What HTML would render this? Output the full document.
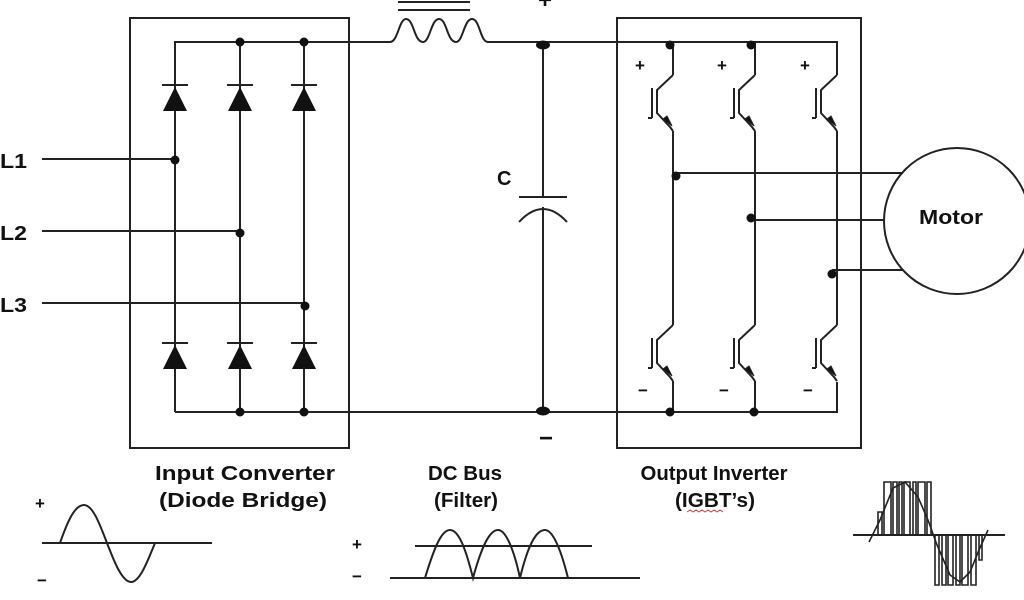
<!DOCTYPE html>
<html><head><style>
html,body{margin:0;padding:0;background:#fff;}
svg{display:block;}
text{font-family:"Liberation Sans",sans-serif;font-weight:bold;fill:#111;}
</style></head><body>
<svg width="1024" height="600" viewBox="0 0 1024 600" xmlns="http://www.w3.org/2000/svg">
<defs>
<g id="igbt" fill="none" stroke="#222" stroke-width="2">
  <polyline points="0,0 -16,15 -16,38 -3,52 0,56"/>
  <line x1="-21" y1="13" x2="-21" y2="43"/>
  <line x1="-21" y1="43" x2="-25" y2="43"/>
  <polygon points="-1,51 -10,44 -6,41" fill="#111" stroke-width="1"/>
</g>
</defs>
<g stroke="#222" stroke-width="2" fill="none">
  <rect x="130" y="18" width="219" height="430"/>
  <rect x="617" y="18" width="244" height="430"/>
  <polyline points="175,412 175,42 390,42"/>
  <path d="M390,42 C398,42 401,19 407,19 C413,19 416,42 423,42 C430,42 433,19 439,19 C445,19 448,42 455,42 C462,42 465,19 471,19 C477,19 480,42 488,42 L490,42" opacity="0"/>
  <path d="M390,42 C400,42 397,19 406,19 C415,19 413,42 423,42 C433,42 430,19 439,19 C448,19 446,42 456,42 C466,42 463,19 472,19 C481,19 479,42 488,42 L490,42" opacity="0"/>
  <path d="M390,42 L394,42 C400,42 401,19 406,19 C412,19 413,42 420,42 C424,42 426,19 439,19 C448,19 450,42 455,42 C459,42 461,19 472,19 C481,19 482,42 488,42 L490,42" opacity="0"/>
  <path d="M390,42 L394,42 L406,19 L423,42 L439,19 L456,42 L472,19 L488,42 L490,42" opacity="0"/>
  <path d="M390,42 C398,42 399,19 406,19 C414,19 414,42 423,42" />
  <path d="M423,42 C430,42 431,19 439,19 C447,19 447,42 456,42" />
  <path d="M456,42 C463,42 464,19 472,19 C480,19 480,42 488,42 L490,42" />
  <line x1="398" y1="2" x2="470" y2="2"/>
  <line x1="398" y1="10" x2="470" y2="10"/>
  <polyline points="490,42 837,42 837,75"/>
  <polyline points="175,412 837,412 837,382"/>
  <line x1="240" y1="42" x2="240" y2="412"/>
  <line x1="304" y1="42" x2="304" y2="412"/>
  <line x1="42" y1="159" x2="175" y2="159"/>
  <line x1="42" y1="231" x2="240" y2="231"/>
  <line x1="42" y1="303" x2="304" y2="303"/>
  <line x1="543" y1="42" x2="543" y2="197"/>
  <line x1="519" y1="197" x2="567" y2="197"/>
  <path d="M519,222 Q543,196 567,222"/>
  <line x1="543" y1="207" x2="543" y2="412"/>
  <line x1="673" y1="42" x2="673" y2="75"/>
  <line x1="755" y1="42" x2="755" y2="75"/>
  <line x1="673" y1="131" x2="673" y2="325"/>
  <line x1="755" y1="131" x2="755" y2="325"/>
  <line x1="837" y1="131" x2="837" y2="325"/>
  <line x1="673" y1="381" x2="673" y2="412"/>
  <line x1="755" y1="381" x2="755" y2="412"/>
  <line x1="676" y1="173" x2="903" y2="173"/>
  <line x1="752" y1="220" x2="884" y2="220"/>
  <line x1="832" y1="270" x2="903" y2="270"/>
  <circle cx="957" cy="221" r="73"/>
  <line x1="42" y1="543" x2="212" y2="543"/>
  <path d="M60,543 C68,520 75,505 84,505 C93,505 100,525 107,543 C114,561 122,582 131,582 C140,582 148,560 155,543"/>
  <line x1="415" y1="546" x2="592" y2="546"/>
  <line x1="390" y1="578" x2="640" y2="578"/>
  <path d="M425,578 C435,545 442,530 450,530 C459,530 466,550 473,578 C482,545 490,530 498,530 C506,530 514,550 520,578 C528,545 536,530 545,530 C553,530 561,550 568,578"/>
  <line x1="853" y1="535" x2="1005" y2="535"/>
  <g stroke-width="1.6">
  <path d="M870,535 L878,535 L878,512 L882,512 L882,535 L884,535 L884,482 L891,482 L891,535 L893,535 L893,482 L897,482 L897,535 L899,535 L899,482 L902,482 L902,535 L904,535 L904,482 L910,482 L910,535 L913,535 L913,482 L916,482 L916,535 L918,535 L918,482 L925,482 L925,535 L927,535 L927,482 L931,482 L931,535"/>
  <path d="M931,535 L935,535 L935,585 L939,585 L939,535 L942,535 L942,585 L946,585 L946,535 L948,535 L948,585 L953,585 L953,535 L956,535 L956,585 L960,585 L960,535 L962,535 L962,585 L968,585 L968,535 L971,535 L971,585 L976,585 L976,535 L979,535 L979,560 L982,560 L982,535 L988,535"/>
  <polyline points="869,542 880,520 893,488 905,482 918,497 928,520 937,545 950,575 960,582 970,572 979,550 988,530"/>
  </g>
</g>
<g fill="#111">
  <circle cx="240" cy="42" r="4.5"/><circle cx="304" cy="42" r="4.5"/>
  <circle cx="240" cy="412" r="4.5"/><circle cx="304" cy="412" r="4.5"/>
  <circle cx="175" cy="160" r="4.5"/><circle cx="240" cy="233" r="4.5"/><circle cx="305" cy="306" r="4.5"/>
  <ellipse cx="543" cy="45" rx="7" ry="4.5"/><ellipse cx="543" cy="411" rx="7" ry="4.5"/>
  <circle cx="670" cy="45" r="4.5"/><circle cx="751" cy="45" r="4.5"/>
  <circle cx="670" cy="412" r="4.5"/><circle cx="754" cy="412" r="4.5"/>
  <circle cx="676" cy="176" r="4.5"/><circle cx="751" cy="218" r="4.5"/><circle cx="832" cy="274" r="4.5"/>
  <g stroke="#222" stroke-width="2">
    <line x1="162" y1="85" x2="188" y2="85"/><line x1="227" y1="85" x2="253" y2="85"/><line x1="291" y1="85" x2="317" y2="85"/>
    <line x1="162" y1="343" x2="188" y2="343"/><line x1="227" y1="343" x2="253" y2="343"/><line x1="291" y1="343" x2="317" y2="343"/>
  </g>
  <polygon points="175,87 163,111 187,111"/><polygon points="240,87 228,111 252,111"/><polygon points="304,87 292,111 316,111"/>
  <polygon points="175,345 163,369 187,369"/><polygon points="240,345 228,369 252,369"/><polygon points="304,345 292,369 316,369"/>
</g>
<use href="#igbt" x="673" y="75"/><use href="#igbt" x="755" y="75"/><use href="#igbt" x="837" y="75"/>
<use href="#igbt" x="673" y="325"/><use href="#igbt" x="755" y="325"/><use href="#igbt" x="837" y="325"/>
<text x="0" y="168" font-size="20" textLength="27" lengthAdjust="spacingAndGlyphs">L1</text>
<text x="0" y="240" font-size="20" textLength="27" lengthAdjust="spacingAndGlyphs">L2</text>
<text x="0" y="312" font-size="20" textLength="27" lengthAdjust="spacingAndGlyphs">L3</text>
<text x="497" y="185" font-size="20">C</text>
<text x="545" y="8" font-size="24" text-anchor="middle">+</text>
<text x="546" y="446" font-size="24" text-anchor="middle">−</text>
<g font-size="17"><text x="640" y="71" text-anchor="middle">+</text><text x="722" y="71" text-anchor="middle">+</text><text x="805" y="71" text-anchor="middle">+</text>
<text x="643" y="396" text-anchor="middle">−</text><text x="724" y="396" text-anchor="middle">−</text><text x="808" y="396" text-anchor="middle">−</text>
<text x="40" y="509" text-anchor="middle">+</text><text x="42" y="586" text-anchor="middle">−</text>
<text x="357" y="550" text-anchor="middle">+</text><text x="357" y="582" text-anchor="middle">−</text></g>
<text x="951" y="224" font-size="20" text-anchor="middle" textLength="64" lengthAdjust="spacingAndGlyphs">Motor</text>
<g font-size="20" text-anchor="middle">
<text x="245" y="480" textLength="180" lengthAdjust="spacingAndGlyphs">Input Converter</text>
<text x="243" y="507" textLength="168" lengthAdjust="spacingAndGlyphs">(Diode Bridge)</text>
<text x="465" y="480" textLength="74" lengthAdjust="spacingAndGlyphs">DC Bus</text>
<text x="466" y="507" textLength="64" lengthAdjust="spacingAndGlyphs">(Filter)</text>
<text x="714" y="480" textLength="147" lengthAdjust="spacingAndGlyphs">Output Inverter</text>
<text x="715" y="507" textLength="80" lengthAdjust="spacingAndGlyphs">(IGBT’s)</text>
</g>
<path d="M687,512 l3,-2 3,2 3,-2 3,2 3,-2 3,2 3,-2 3,2 3,-2 3,2 3,-2 3,2" stroke="#c44" stroke-width="1" fill="none"/>
</svg>
</body></html>
